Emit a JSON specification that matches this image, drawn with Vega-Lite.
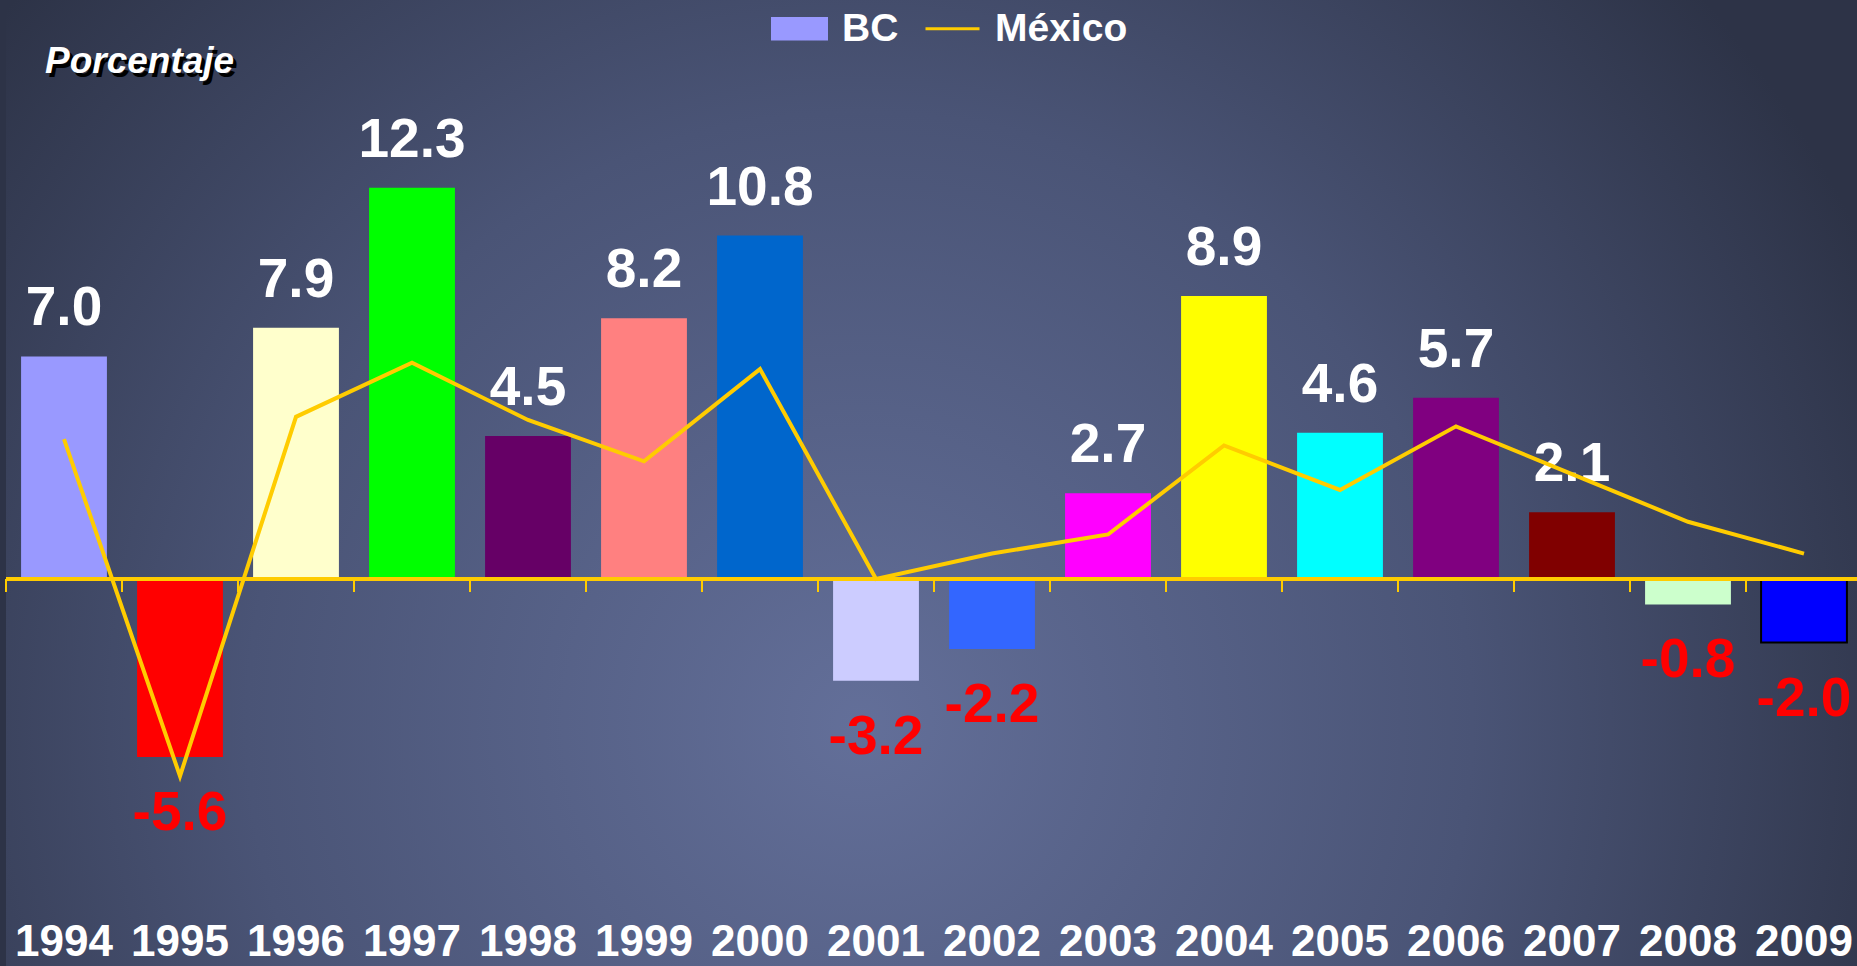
{
  "$schema": "https://vega.github.io/schema/vega-lite/v6.json",
  "width": 1856,
  "height": 966,
  "autosize": {"type": "none"},
  "padding": {"left": 6, "top": 0, "right": 0, "bottom": 0},
  "background": "#2d3347",
  "config": {
    "font": "Liberation Sans",
    "view": {"stroke": null},
    "locale": {"number": {"decimal": ".", "thousands": ",", "grouping": [3], "currency": ["$", ""], "minus": "-"}}
  },
  "title": {"text": "Porcentaje", "orient": "none", "anchor": "start", "align": "left", "baseline": "alphabetic", "dx": 39, "dy": 73, "color": "#ffffff", "font": "Liberation Sans", "fontSize": 37, "fontStyle": "italic", "fontWeight": "bold", "zindex": 2},
  "datasets": {
    "main": [
      {"year": "1994", "bc": 7.0, "mx": 4.4},
      {"year": "1995", "bc": -5.6, "mx": -6.2},
      {"year": "1996", "bc": 7.9, "mx": 5.1},
      {"year": "1997", "bc": 12.3, "mx": 6.8},
      {"year": "1998", "bc": 4.5, "mx": 5.0},
      {"year": "1999", "bc": 8.2, "mx": 3.7},
      {"year": "2000", "bc": 10.8, "mx": 6.6},
      {"year": "2001", "bc": -3.2, "mx": 0.0},
      {"year": "2002", "bc": -2.2, "mx": 0.8},
      {"year": "2003", "bc": 2.7, "mx": 1.4},
      {"year": "2004", "bc": 8.9, "mx": 4.2},
      {"year": "2005", "bc": 4.6, "mx": 2.8},
      {"year": "2006", "bc": 5.7, "mx": 4.8},
      {"year": "2007", "bc": 2.1, "mx": 3.3},
      {"year": "2008", "bc": -0.8, "mx": 1.8},
      {"year": "2009", "bc": -2.0, "mx": 0.8}
    ],
    "legend": [{"serie": "BC"}, {"serie": "México"}]
  },
  "layer": [
    {
      "data": {"values": [{}]},
      "mark": {"type": "rect", "fill": {"gradient": "radial", "x1": 0.46, "y1": 0.63, "r1": 0, "x2": 0.46, "y2": 0.63, "r2": 0.6, "stops": [{"offset": 0, "color": "#636f99"}, {"offset": 0.55, "color": "#4a5476"}, {"offset": 1, "color": "#2d3347"}]}},
      "encoding": {}
    },
    {
      "data": {"name": "main"},
      "mark": {"type": "bar", "width": {"band": 0.74}, "strokeWidth": 2},
      "encoding": {
        "x": {"field": "year", "type": "nominal", "title": null, "scale": {"paddingInner": 0, "paddingOuter": 0},
          "axis": {"labelAngle": 0, "labelColor": "#ffffff", "labelFont": "Liberation Sans", "labelFontSize": 44, "labelFontWeight": "bold", "labelBaseline": "top", "labelPadding": 0, "offset": -46, "domain": false, "ticks": false, "tickSize": 0, "grid": false, "labelOverlap": false, "zindex": 1}},
        "y": {"field": "bc", "type": "quantitative", "title": "Porcentaje", "scale": {"domain": [-12.17, 18.2075], "nice": false, "zero": false},
          "axis": {"labels": false, "ticks": false, "domain": false, "grid": false, "titleColor": "#000000", "titleFont": "Liberation Sans", "titleFontSize": 37, "titleFontStyle": "italic", "titleFontWeight": "bold", "titleAngle": 0, "titleAlign": "left", "titleBaseline": "alphabetic", "titleX": 42, "titleY": 76, "zindex": 1}},
        "fill": {"field": "year", "type": "nominal", "legend": null, "scale": {"range": ["#9999ff", "#ff0000", "#ffffcc", "#00ff00", "#660066", "#ff8080", "#0066cc", "#ccccff", "#3366ff", "#ff00ff", "#ffff00", "#00ffff", "#800080", "#800000", "#ccffcc", "#0000ff"]}},
        "stroke": {"condition": {"test": "datum.year === '2009'", "value": "#000000"}, "value": null}
      }
    },
    {
      "data": {"name": "main"},
      "transform": [{"filter": "datum.bc >= 0"}],
      "mark": {"type": "text", "baseline": "alphabetic", "align": "center", "dy": -31, "fontSize": 55, "fontWeight": "bold", "font": "Liberation Sans", "color": "#ffffff"},
      "encoding": {
        "x": {"field": "year", "type": "nominal", "title": null},
        "y": {"field": "bc", "type": "quantitative", "title": "Porcentaje"},
        "text": {"field": "bc", "type": "quantitative", "format": ".1f"}
      }
    },
    {
      "data": {"name": "main"},
      "transform": [{"filter": "datum.bc < 0"}],
      "mark": {"type": "text", "baseline": "alphabetic", "align": "center", "dy": 73, "fontSize": 55, "fontWeight": "bold", "font": "Liberation Sans", "color": "#ff0000"},
      "encoding": {
        "x": {"field": "year", "type": "nominal", "title": null},
        "y": {"field": "bc", "type": "quantitative", "title": "Porcentaje"},
        "text": {"field": "bc", "type": "quantitative", "format": ".1f"}
      }
    },
    {
      "data": {"name": "main"},
      "mark": {"type": "rule", "color": "#ffcc00", "strokeWidth": 3},
      "encoding": {
        "y": {"datum": 0, "type": "quantitative", "title": "Porcentaje"}
      }
    },
    {
      "data": {"name": "main"},
      "mark": {"type": "rule", "color": "#ffcc00", "strokeWidth": 2},
      "encoding": {
        "x": {"field": "year", "type": "nominal", "title": null, "bandPosition": 0},
        "y": {"datum": 0, "type": "quantitative", "title": "Porcentaje"},
        "y2": {"datum": -0.41}
      }
    },
    {
      "data": {"name": "main"},
      "mark": {"type": "line", "color": "#ffcc00", "strokeWidth": 4},
      "encoding": {
        "x": {"field": "year", "type": "nominal", "title": null},
        "y": {"field": "mx", "type": "quantitative", "title": "Porcentaje"}
      }
    },
    {
      "data": {"name": "legend"},
      "mark": {"type": "point", "opacity": 0, "filled": true, "size": 2916},
      "encoding": {
        "color": {"field": "serie", "type": "nominal", "scale": {"domain": ["BC", "México"], "range": ["#9999ff", "#ffcc00"]},
          "legend": {"title": null, "orient": "none", "direction": "horizontal", "legendX": 765, "legendY": 0, "labelColor": "#ffffff", "labelFont": "Liberation Sans", "labelFontSize": 39, "labelFontWeight": "bold", "labelOffset": 14, "columnPadding": 20, "symbolSize": 2916, "symbolOpacity": 1, "symbolStrokeWidth": 3, "padding": 0, "zindex": 1,
            "encode": {"symbols": {"update": {"fill": {"scale": "color", "field": "value"}, "stroke": {"scale": "color", "field": "value"}, "strokeWidth": {"value": 3}, "opacity": {"value": 1}}}}}},
        "shape": {"field": "serie", "type": "nominal", "scale": {"domain": ["BC", "México"], "range": ["M-1,-0.38H1V0.38H-1Z", "stroke"]}}
      }
    }
  ]
}
